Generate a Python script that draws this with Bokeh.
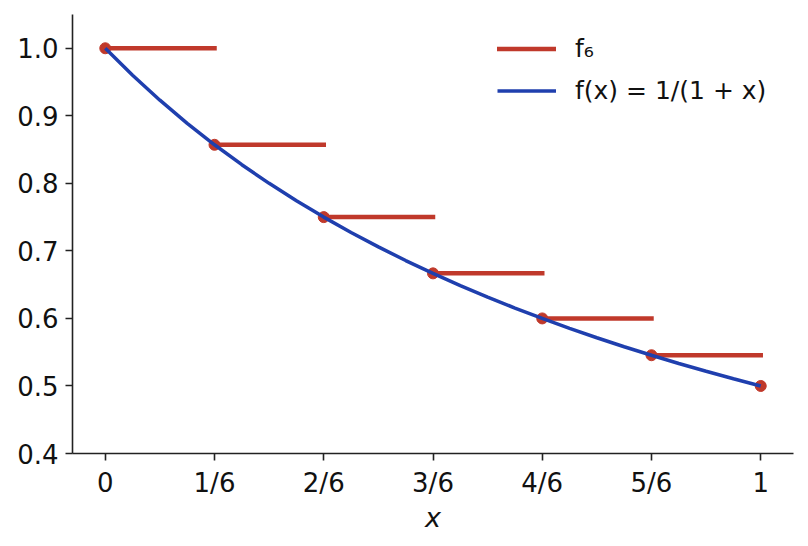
from bokeh.plotting import figure
from bokeh.models import FixedTicker, Legend, LegendItem, Range1d
from bokeh.embed import file_html
from bokeh.resources import INLINE

# grid points k/6 and the step values f6 takes on them
step_x = [0, 1/6, 2/6, 3/6, 4/6, 5/6, 1]
step_y = [1.0, 0.8571, 0.75, 0.6667, 0.6, 0.5455, 0.5]

# curve f(x) = 1/(1+x), read at steps of 1/24
curve_x = [i / 24 for i in range(25)]
curve_y = [1.0, 0.96, 0.9231, 0.8889, 0.8571, 0.8276, 0.8, 0.7742, 0.75,
           0.7273, 0.7059, 0.6857, 0.6667, 0.6486, 0.6316, 0.6154, 0.6,
           0.5854, 0.5714, 0.5581, 0.5455, 0.5333, 0.5217, 0.5106, 0.5]

x_ticks = [0, 1/6, 2/6, 3/6, 4/6, 5/6, 1]
x_tick_labels = ["0", "1/6", "2/6", "3/6", "4/6", "5/6", "1"]
y_ticks = [0.4, 0.5, 0.6, 0.7, 0.8, 0.9, 1.0]

RED = "#c0392b"
BLUE = "#1f3fae"
FONT = "DejaVu Sans"

p = figure(width=808, height=546, output_backend="svg", toolbar_location=None,
           x_range=Range1d(-0.05, 1.05), y_range=Range1d(0.4, 1.05),
           min_border_left=72, min_border_right=15, min_border_top=14,
           min_border_bottom=93)
p.outline_line_color = None
p.grid.visible = False
p.background_fill_color = "white"
p.border_fill_color = "white"

seg = p.segment(x0=step_x[:-1], y0=step_y[:-1], x1=step_x[1:], y1=step_y[:-1],
                line_color=RED, line_width=4.5, line_cap="square")
p.scatter(step_x, step_y, size=11, fill_color=RED, line_color=RED)
cur = p.line(curve_x, curve_y, line_color=BLUE, line_width=3.5)

for ax in (p.xaxis[0], p.yaxis[0]):
    ax.axis_line_width = 1.6
    ax.axis_line_color = "#222222"
    ax.major_tick_line_width = 1.6
    ax.major_tick_line_color = "#222222"
    ax.major_tick_out = 7
    ax.major_tick_in = 0
    ax.minor_tick_out = 0
    ax.minor_tick_in = 0
    ax.major_label_text_font = FONT
    ax.major_label_text_font_size = "26px"
    ax.major_label_text_color = "#111111"
    ax.major_label_standoff = 7

p.xaxis.ticker = FixedTicker(ticks=x_ticks)
p.xaxis.major_label_overrides = {t: s for t, s in zip(x_ticks, x_tick_labels)}
p.yaxis.ticker = FixedTicker(ticks=y_ticks)
p.yaxis.major_label_overrides = {t: "%.1f" % t for t in y_ticks}

p.xaxis.axis_label = "x"
p.xaxis.axis_label_text_font = FONT
p.xaxis.axis_label_text_font_style = "italic"
p.xaxis.axis_label_text_font_size = "27px"
p.xaxis.axis_label_text_color = "#111111"
p.xaxis.axis_label_standoff = 1

legend = Legend(items=[LegendItem(label="f₆", renderers=[seg]),
                       LegendItem(label="f(x) = 1/(1 + x)", renderers=[cur])],
                location=(425, 348), padding=0, margin=0,
                border_line_color=None, background_fill_alpha=0,
                glyph_width=59, glyph_height=25, label_height=25,
                label_standoff=19, spacing=13,
                label_text_font=FONT, label_text_font_size="25px",
                label_text_color="#111111")
p.add_layout(legend)

open("out.html", "w").write(file_html(p, INLINE))
